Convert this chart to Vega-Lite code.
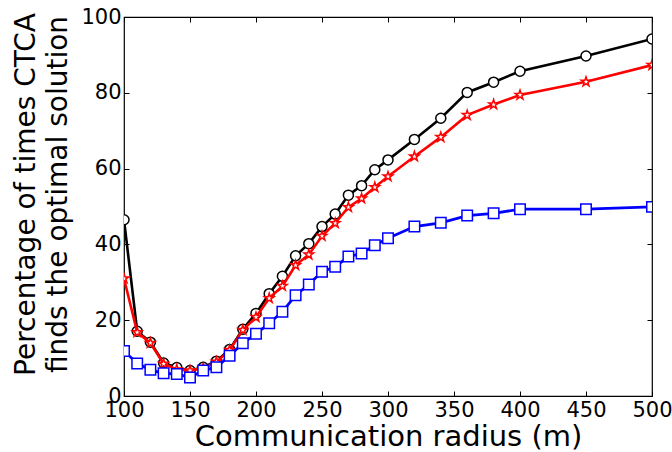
{
  "$schema": "https://vega.github.io/schema/vega-lite/v6.json",
  "width": 528,
  "height": 379,
  "autosize": "none",
  "padding": {"left": 124, "top": 17, "right": 20, "bottom": 56},
  "background": "white",
  "config": {
    "view": {"stroke": "#000000", "strokeWidth": 1.2},
    "axis": {"font": "DejaVu Sans", "labelFont": "DejaVu Sans", "titleFont": "DejaVu Sans", "grid": false, "domain": false, "tickColor": "#000000", "tickWidth": 1, "labelColor": "#000000", "titleColor": "#000000", "titleFontWeight": "normal"}
  },
  "datasets": {
    "d": [
      {"r":100,"v":46.5,"s":"A"},{"r":110,"v":17.1,"s":"A"},{"r":120,"v":14.2,"s":"A"},{"r":130,"v":8.7,"s":"A"},{"r":140,"v":7.5,"s":"A"},{"r":150,"v":6.7,"s":"A"},{"r":160,"v":7.6,"s":"A"},{"r":170,"v":9.2,"s":"A"},{"r":180,"v":12.3,"s":"A"},{"r":190,"v":17.6,"s":"A"},{"r":200,"v":21.8,"s":"A"},{"r":210,"v":27.0,"s":"A"},{"r":220,"v":31.6,"s":"A"},{"r":230,"v":37.0,"s":"A"},{"r":240,"v":40.2,"s":"A"},{"r":250,"v":44.7,"s":"A"},{"r":260,"v":48.0,"s":"A"},{"r":270,"v":53.0,"s":"A"},{"r":280,"v":55.5,"s":"A"},{"r":290,"v":59.7,"s":"A"},{"r":300,"v":62.3,"s":"A"},{"r":320,"v":67.7,"s":"A"},{"r":340,"v":73.3,"s":"A"},{"r":360,"v":80.1,"s":"A"},{"r":380,"v":82.8,"s":"A"},{"r":400,"v":85.7,"s":"A"},{"r":450,"v":89.7,"s":"A"},{"r":500,"v":94.2,"s":"A"},
      {"r":100,"v":31.0,"s":"B"},{"r":110,"v":16.8,"s":"B"},{"r":120,"v":14.0,"s":"B"},{"r":130,"v":8.5,"s":"B"},{"r":140,"v":7.0,"s":"B"},{"r":150,"v":6.7,"s":"B"},{"r":160,"v":7.3,"s":"B"},{"r":170,"v":9.0,"s":"B"},{"r":180,"v":12.1,"s":"B"},{"r":190,"v":17.4,"s":"B"},{"r":200,"v":20.8,"s":"B"},{"r":210,"v":25.8,"s":"B"},{"r":220,"v":29.0,"s":"B"},{"r":230,"v":34.5,"s":"B"},{"r":240,"v":37.3,"s":"B"},{"r":250,"v":42.2,"s":"B"},{"r":260,"v":45.6,"s":"B"},{"r":270,"v":49.8,"s":"B"},{"r":280,"v":52.1,"s":"B"},{"r":290,"v":55.1,"s":"B"},{"r":300,"v":57.9,"s":"B"},{"r":320,"v":63.2,"s":"B"},{"r":340,"v":68.3,"s":"B"},{"r":360,"v":74.1,"s":"B"},{"r":380,"v":76.9,"s":"B"},{"r":400,"v":79.4,"s":"B"},{"r":450,"v":82.9,"s":"B"},{"r":500,"v":87.3,"s":"B"},
      {"r":100,"v":11.9,"s":"C"},{"r":110,"v":8.6,"s":"C"},{"r":120,"v":6.9,"s":"C"},{"r":130,"v":6.0,"s":"C"},{"r":140,"v":5.8,"s":"C"},{"r":150,"v":4.9,"s":"C"},{"r":160,"v":6.7,"s":"C"},{"r":170,"v":7.6,"s":"C"},{"r":180,"v":10.6,"s":"C"},{"r":190,"v":13.9,"s":"C"},{"r":200,"v":16.4,"s":"C"},{"r":210,"v":19.2,"s":"C"},{"r":220,"v":22.2,"s":"C"},{"r":230,"v":26.6,"s":"C"},{"r":240,"v":29.4,"s":"C"},{"r":250,"v":32.8,"s":"C"},{"r":260,"v":34.1,"s":"C"},{"r":270,"v":36.8,"s":"C"},{"r":280,"v":37.6,"s":"C"},{"r":290,"v":39.8,"s":"C"},{"r":300,"v":41.6,"s":"C"},{"r":320,"v":44.7,"s":"C"},{"r":340,"v":45.7,"s":"C"},{"r":360,"v":47.6,"s":"C"},{"r":380,"v":48.2,"s":"C"},{"r":400,"v":49.3,"s":"C"},{"r":450,"v":49.3,"s":"C"},{"r":500,"v":49.9,"s":"C"}
    ]
  },
  "data": {"name": "d"},
  "resolve": {"axis": {"x": "independent", "y": "independent"}},
  "layer": [
    {
      "transform": [{"filter": "datum.s === 'A'"}],
      "mark": {"type": "line", "color": "#000000", "strokeWidth": 2.6, "clip": true},
      "encoding": {
        "x": {"field": "r", "type": "quantitative", "scale": {"domain": [100, 500], "nice": false, "zero": false},
          "axis": {"orient": "bottom", "values": [100,150,200,250,300,350,400,450,500], "tickSize": -5, "labelPadding": 8, "labelFontSize": 21, "labelFlush": false, "labelOverlap": false, "title": "Communication radius (m)", "titleFontSize": 29, "titleY": 49, "titleBaseline": "alphabetic"}},
        "y": {"field": "v", "type": "quantitative", "scale": {"domain": [0, 100], "nice": false},
          "axis": {"orient": "left", "values": [0,20,40,60,80,100], "tickSize": -5, "labelPadding": 8, "labelFontSize": 21, "labelFlush": false, "labelOverlap": false, "labelBaseline": "middle", "title": ["Percentage of times CTCA", "finds the optimal solution"], "titleFontSize": 28, "titleLineHeight": 32, "titleAngle": -90, "titleBaseline": "top", "titleAlign": "center", "titleX": -112, "titleY": 177}}
      }
    },
    {
      "transform": [{"filter": "datum.s === 'A'"}],
      "mark": {"type": "point", "shape": "circle", "size": 100, "filled": true, "fill": "#ffffff", "stroke": "#000000", "strokeWidth": 1.5, "opacity": 1, "clip": true},
      "encoding": {
        "x": {"field": "r", "type": "quantitative", "axis": {"orient": "top", "values": [100,150,200,250,300,350,400,450,500], "tickSize": -5, "labels": false, "title": null}},
        "y": {"field": "v", "type": "quantitative", "axis": {"orient": "right", "values": [0,20,40,60,80,100], "tickSize": -5, "labels": false, "title": null}}
      }
    },
    {
      "transform": [{"filter": "datum.s === 'B'"}],
      "mark": {"type": "line", "color": "#ff0000", "strokeWidth": 2.6, "clip": true},
      "encoding": {
        "x": {"field": "r", "type": "quantitative", "axis": null},
        "y": {"field": "v", "type": "quantitative", "axis": null}
      }
    },
    {
      "transform": [{"filter": "datum.s === 'B'"}],
      "mark": {"type": "point", "shape": "M0,-1L0.2245,-0.309L0.951,-0.309L0.363,0.118L0.588,0.809L0,0.382L-0.588,0.809L-0.363,0.118L-0.951,-0.309L-0.2245,-0.309Z", "size": 100, "filled": true, "fill": "#ffffff", "stroke": "#ff0000", "strokeWidth": 1.5, "opacity": 1, "clip": true},
      "encoding": {
        "x": {"field": "r", "type": "quantitative", "axis": null},
        "y": {"field": "v", "type": "quantitative", "axis": null}
      }
    },
    {
      "transform": [{"filter": "datum.s === 'C'"}],
      "mark": {"type": "line", "color": "#0000ff", "strokeWidth": 2.8, "clip": true},
      "encoding": {
        "x": {"field": "r", "type": "quantitative", "axis": null},
        "y": {"field": "v", "type": "quantitative", "axis": null}
      }
    },
    {
      "transform": [{"filter": "datum.s === 'C'"}],
      "mark": {"type": "point", "shape": "square", "size": 110, "filled": true, "fill": "#ffffff", "stroke": "#0000ff", "strokeWidth": 1.5, "opacity": 1, "clip": true},
      "encoding": {
        "x": {"field": "r", "type": "quantitative", "axis": null},
        "y": {"field": "v", "type": "quantitative", "axis": null}
      }
    }
  ]
}
